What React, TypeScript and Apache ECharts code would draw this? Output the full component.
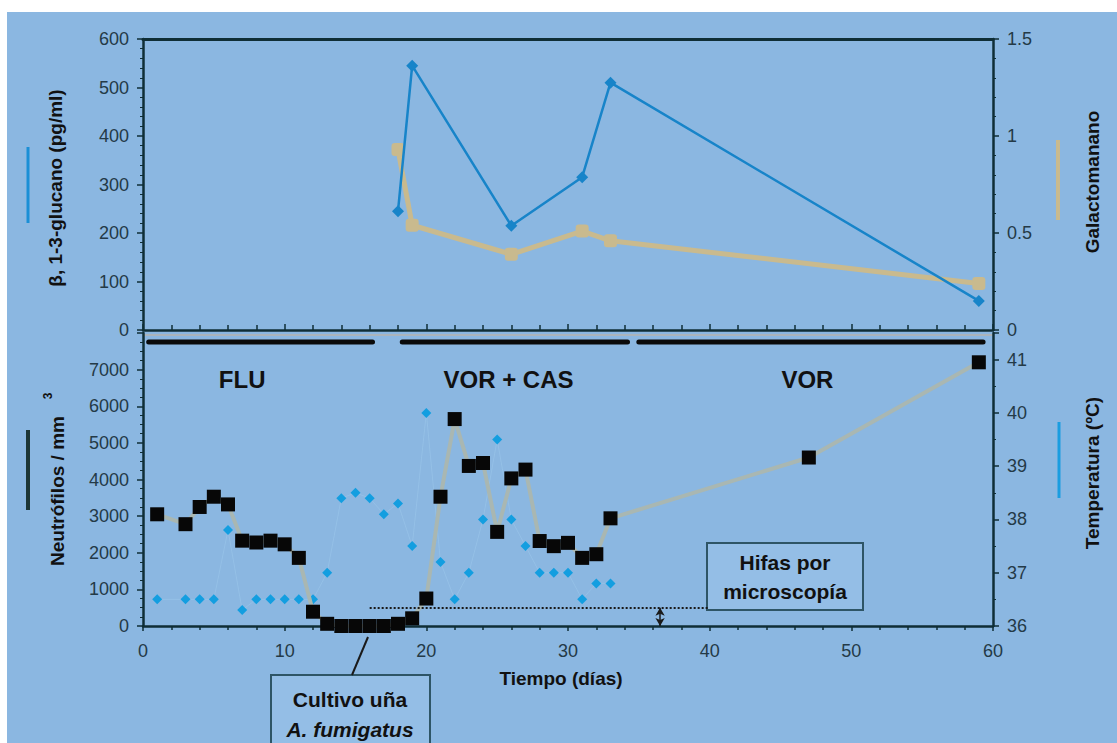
import React, { useEffect, useRef } from 'react';
import * as echarts from 'echarts';

// ---- data ----
const glucanDays = [18, 19, 26, 31, 33, 59];
const glucanValues = [245, 545, 215, 315, 510, 60];

const galactoDays = [18, 19, 26, 31, 33, 59];
const galactoValues = [0.93, 0.54, 0.39, 0.51, 0.46, 0.24];

const neutroDays = [1, 3, 4, 5, 6, 7, 8, 9, 10, 11, 12, 13, 14, 15, 16, 17, 18, 19, 20, 21, 22, 23, 24, 25, 26, 27, 28, 29, 30, 31, 32, 33, 47, 59];
const neutroValues = [3050, 2780, 3250, 3530, 3320, 2330, 2280, 2330, 2230, 1860, 390, 60, 0, 0, 0, 0, 60, 210, 750, 3530, 5650, 4370, 4450, 2570, 4030, 4270, 2320, 2180, 2270, 1860, 1960, 2940, 4600, 7200];

const tempDays = [1, 3, 4, 5, 6, 7, 8, 9, 10, 11, 12, 13, 14, 15, 16, 17, 18, 19, 20, 21, 22, 23, 24, 25, 26, 27, 28, 29, 30, 31, 32, 33];
const tempValues = [36.5, 36.5, 36.5, 36.5, 37.8, 36.3, 36.5, 36.5, 36.5, 36.5, 36.5, 37.0, 38.4, 38.5, 38.4, 38.1, 38.3, 37.5, 40.0, 37.2, 36.5, 37.0, 38.0, 39.5, 38.0, 37.5, 37.0, 37.0, 37.0, 36.5, 36.8, 36.8];

const treatmentNames = ['FLU', 'VOR + CAS', 'VOR'];
const treatmentStart = [0.4, 18.3, 35.0];
const treatmentEnd = [16.2, 34.2, 59.3];
const treatmentLabelDay = [7.0, 25.8, 46.9];

const neutropeniaLevel = 500;
const hifasFromDay = 16;
const hifasToDay = 40;
const hifasArrowDay = 36.5;

// ---- style ----
const FONT = '"Liberation Sans", Arial, Helvetica, sans-serif';
const AX = '#0f2e36';
const LBL = '#243a47';
const BLUE = '#1784c9';
const TBLUE = '#139ee0';
const TAN = '#c9ba8e';

const mkAxisLine = (w = 2.5) => ({ show: true, onZero: false, lineStyle: { color: AX, width: w } });
const tickLabel = { color: LBL, fontSize: 18, fontFamily: FONT };

export default function App() {
  const ref = useRef<HTMLDivElement>(null);

  useEffect(() => {
    if (!ref.current) return;
    const chart = echarts.init(ref.current, undefined, { renderer: 'svg' });

    const treatData = treatmentNames.map((n, i) => [treatmentStart[i], treatmentEnd[i], treatmentLabelDay[i]]);
    const BAR_LEVEL = 7754;
    const LABEL_LEVEL = 6720;

    const option: any = {
      animation: false,
      backgroundColor: 'transparent',
      textStyle: { fontFamily: FONT },
      grid: [
        { left: 143, right: 124, top: 39, height: 291 },
        { left: 143, right: 124, top: 333, height: 293 },
      ],
      xAxis: [
        {
          gridIndex: 0, type: 'value', min: 0, max: 60, interval: 10,
          axisLine: mkAxisLine(2.5),
          axisTick: { show: true, inside: true, length: 6, lineStyle: { color: AX, width: 1.5 } },
          minorTick: { show: true, splitNumber: 5, length: 5, lineStyle: { color: AX, width: 1.5 } },
          axisLabel: { show: false }, splitLine: { show: false },
        },
        {
          gridIndex: 0, type: 'value', position: 'top', min: 0, max: 60,
          axisLine: mkAxisLine(3),
          axisTick: { show: false }, axisLabel: { show: false }, splitLine: { show: false },
        },
        {
          gridIndex: 1, type: 'value', position: 'bottom', min: 0, max: 60, interval: 10,
          axisLine: mkAxisLine(2.5),
          axisTick: { show: true, length: 5, lineStyle: { color: AX, width: 1.5 } },
          minorTick: { show: true, splitNumber: 5, length: 4, lineStyle: { color: AX, width: 1.5 } },
          axisLabel: { ...tickLabel, margin: 16 }, splitLine: { show: false },
        },
      ],
      yAxis: [
        {
          gridIndex: 0, type: 'value', position: 'left', min: 0, max: 600, interval: 100,
          axisLine: mkAxisLine(2.5),
          axisTick: { show: true, length: 6, lineStyle: { color: AX, width: 1.5 } },
          minorTick: { show: true, splitNumber: 5, length: 3, lineStyle: { color: AX } },
          axisLabel: { ...tickLabel, margin: 14 }, splitLine: { show: false },
        },
        {
          gridIndex: 0, type: 'value', position: 'right', min: 0, max: 1.5, interval: 0.5,
          axisLine: mkAxisLine(2.5),
          axisTick: { show: true, length: 6, lineStyle: { color: AX, width: 1.5 } },
          minorTick: { show: true, splitNumber: 5, length: 3, lineStyle: { color: AX } },
          axisLabel: { ...tickLabel, margin: 14 }, splitLine: { show: false },
        },
        {
          gridIndex: 1, type: 'value', position: 'left', min: 0, max: 8000, interval: 1000,
          axisLine: mkAxisLine(2.5),
          axisTick: { show: true, length: 6, lineStyle: { color: AX, width: 1.5 } },
          minorTick: { show: true, splitNumber: 4, length: 3, lineStyle: { color: AX } },
          axisLabel: { ...tickLabel, margin: 14, formatter: (v: number) => (v >= 8000 ? '' : String(v)) },
          splitLine: { show: false },
        },
        {
          gridIndex: 1, type: 'value', position: 'right', min: 36, max: 41.5, interval: 1,
          axisLine: mkAxisLine(2.5),
          axisTick: { show: true, length: 6, lineStyle: { color: AX, width: 1.5 } },
          minorTick: { show: true, splitNumber: 2, length: 3, lineStyle: { color: AX } },
          axisLabel: { ...tickLabel, margin: 14, formatter: (v: number) => (Number.isInteger(v) ? String(v) : '') },
          splitLine: { show: false },
        },
      ],
      series: [
        {
          name: 'Galactomanano', type: 'line', xAxisIndex: 0, yAxisIndex: 1, z: 2,
          data: galactoDays.map((d, i) => [d, galactoValues[i]]),
          symbol: 'roundRect', symbolSize: 13,
          lineStyle: { color: TAN, width: 5 }, itemStyle: { color: TAN },
        },
        {
          name: 'β-glucano', type: 'line', xAxisIndex: 0, yAxisIndex: 0, z: 3,
          data: glucanDays.map((d, i) => [d, glucanValues[i]]),
          symbol: 'diamond', symbolSize: 12,
          lineStyle: { color: BLUE, width: 2.5 }, itemStyle: { color: BLUE },
        },
        {
          name: 'Temperatura', type: 'line', xAxisIndex: 2, yAxisIndex: 3, z: 2,
          data: tempDays.map((d, i) => [d, tempValues[i]]),
          symbol: 'diamond', symbolSize: 10,
          lineStyle: { color: 'rgba(165,210,240,0.35)', width: 1 }, itemStyle: { color: TBLUE },
        },
        {
          name: 'Neutrófilos', type: 'line', xAxisIndex: 2, yAxisIndex: 2, z: 3,
          data: neutroDays.map((d, i) => [d, neutroValues[i]]),
          symbol: 'rect', symbolSize: 14,
          lineStyle: { color: '#a9b7b2', width: 4 }, itemStyle: { color: '#070707' },
          markLine: {
            silent: true, symbol: 'none', label: { show: false }, animation: false,
            data: [
              [
                { coord: [hifasFromDay, neutropeniaLevel], lineStyle: { color: '#1a1a1a', width: 2, type: 'dotted' } },
                { coord: [hifasToDay, neutropeniaLevel] },
              ],
              [
                { coord: [hifasFromDay, -120], lineStyle: { color: '#1a1a1a', width: 1.5, type: 'solid' } },
                { coord: [hifasFromDay, 560] },
              ],
              [
                { coord: [hifasArrowDay, 0], symbol: 'arrow', symbolSize: [7, 8], lineStyle: { color: '#1a1a1a', width: 1.5, type: 'solid' } },
                { coord: [hifasArrowDay, neutropeniaLevel], symbol: 'arrow', symbolSize: [7, 8] },
              ],
            ],
          },
        },
        {
          name: 'Tratamiento', type: 'custom', xAxisIndex: 2, yAxisIndex: 2, z: 4,
          data: treatData,
          renderItem: (params: any, api: any) => {
            const s = api.coord([api.value(0), BAR_LEVEL]);
            const e = api.coord([api.value(1), BAR_LEVEL]);
            const t = api.coord([api.value(2), LABEL_LEVEL]);
            return {
              type: 'group',
              children: [
                { type: 'line', shape: { x1: s[0], y1: s[1], x2: e[0], y2: e[1] }, style: { stroke: '#0a0a0a', lineWidth: 5, lineCap: 'round' } },
                {
                  type: 'text', x: t[0], y: t[1],
                  style: { text: treatmentNames[params.dataIndex], font: `bold 24px ${FONT}`, fill: '#111', align: 'center', verticalAlign: 'middle' },
                },
              ],
            };
          },
        },
      ],
      graphic: [
        // light separator under the upper panel
        { type: 'line', shape: { x1: 143, y1: 335, x2: 993, y2: 335 }, style: { stroke: '#aab4bb', lineWidth: 2 } },
        // legend keys beside axis names
        { type: 'line', shape: { x1: 28, y1: 147, x2: 28, y2: 223 }, style: { stroke: '#1a8fd6', lineWidth: 3 } },
        { type: 'line', shape: { x1: 28, y1: 430, x2: 28, y2: 510 }, style: { stroke: '#1d3636', lineWidth: 4 } },
        { type: 'line', shape: { x1: 1058, y1: 140, x2: 1058, y2: 220 }, style: { stroke: TAN, lineWidth: 4 } },
        { type: 'line', shape: { x1: 1059, y1: 422, x2: 1059, y2: 498 }, style: { stroke: '#1a9de0', lineWidth: 3 } },
        // axis names
        { type: 'text', x: 55, y: 188, rotation: Math.PI / 2, style: { text: 'β, 1-3-glucano (pg/ml)', font: `bold 19px ${FONT}`, fill: '#111', align: 'center', verticalAlign: 'middle' } },
        { type: 'text', x: 57, y: 491, rotation: Math.PI / 2, style: { text: 'Neutrófilos / mm', font: `bold 19px ${FONT}`, fill: '#111', align: 'center', verticalAlign: 'middle' } },
        { type: 'text', x: 48, y: 396, rotation: Math.PI / 2, style: { text: '3', font: `bold 12px ${FONT}`, fill: '#111', align: 'center', verticalAlign: 'middle' } },
        { type: 'text', x: 1092, y: 182, rotation: Math.PI / 2, style: { text: 'Galactomanano', font: `bold 19px ${FONT}`, fill: '#111', align: 'center', verticalAlign: 'middle' } },
        { type: 'text', x: 1092, y: 473, rotation: Math.PI / 2, style: { text: 'Temperatura (ºC)', font: `bold 19px ${FONT}`, fill: '#111', align: 'center', verticalAlign: 'middle' } },
        { type: 'text', x: 561, y: 678, style: { text: 'Tiempo (días)', font: `bold 19px ${FONT}`, fill: '#111', align: 'center', verticalAlign: 'middle' } },
        // annotation boxes
        { type: 'rect', shape: { x: 707, y: 543, width: 156, height: 67 }, style: { fill: 'rgba(160,200,238,0.45)', stroke: '#2e5566', lineWidth: 2 } },
        { type: 'text', x: 785, y: 562, style: { text: 'Hifas por', font: `bold 21px ${FONT}`, fill: '#111', align: 'center', verticalAlign: 'middle' } },
        { type: 'text', x: 785, y: 591, style: { text: 'microscopía', font: `bold 21px ${FONT}`, fill: '#111', align: 'center', verticalAlign: 'middle' } },
        { type: 'rect', shape: { x: 271, y: 675, width: 159, height: 80 }, style: { fill: 'rgba(160,200,238,0.45)', stroke: '#2e5566', lineWidth: 2 } },
        { type: 'text', x: 350, y: 699, style: { text: 'Cultivo uña', font: `bold 21px ${FONT}`, fill: '#111', align: 'center', verticalAlign: 'middle' } },
        { type: 'text', x: 350, y: 729, style: { text: 'A. fumigatus', font: `italic bold 21px ${FONT}`, fill: '#111', align: 'center', verticalAlign: 'middle' } },
        { type: 'line', shape: { x1: 352, y1: 675, x2: 368, y2: 637 }, style: { stroke: '#1a1a1a', lineWidth: 2 } },
      ],
    };

    chart.setOption(option);
    return () => chart.dispose();
  }, []);

  return (
    <div
      ref={ref}
      style={{
        position: 'fixed',
        left: 0,
        top: 0,
        width: 1117,
        height: 743,
        background:
          'linear-gradient(#fff,#fff) 0 0 / 100% 12px no-repeat, linear-gradient(#fff,#fff) 0 0 / 7px 100% no-repeat, #8bb7e1',
      }}
    />
  );
}
